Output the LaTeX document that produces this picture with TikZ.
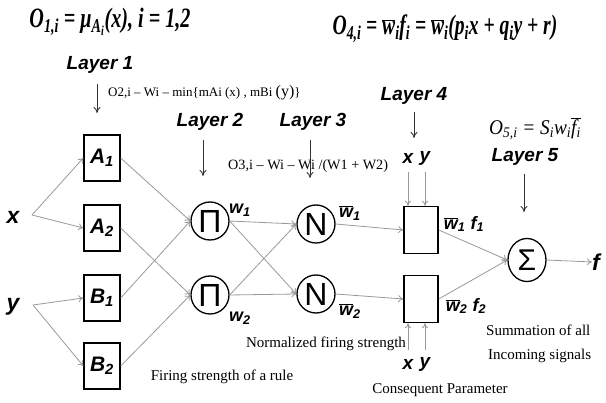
\documentclass[tikz,border=0pt]{standalone}
\usepackage{graphicx}
\usepackage{fontspec}
\setmainfont{Liberation Serif}
\newfontfamily\lsans{Liberation Sans}
\usetikzlibrary{arrows.meta,shapes.geometric}
\newcommand\ovl[1]{$\overline{\hbox{#1}}$}
\newcommand\fs[1]{\fontsize{#1}{#1}\selectfont}
\begin{document}
\begin{tikzpicture}[x=1pt,y=-1pt,
  conn/.style={draw=black!40, line width=0.8pt, -{To[length=5pt,width=7pt]}},
  layerarrow/.style={draw=black!80, line width=0.9pt, -{To[length=6pt,width=7pt]}},
  smallarrow/.style={draw=black!40, line width=0.8pt, -{To[length=5pt,width=6pt]}},
  mfbox/.style={draw, line width=1.4pt, minimum width=36pt, minimum height=46pt, inner sep=0pt, font=\lsans\bfseries\itshape\fs{21}},
  prodbox/.style={draw, line width=1.4pt, minimum width=34pt, minimum height=47pt, inner sep=0pt},
  opnode/.style={draw, ellipse, line width=1.3pt, minimum width=38pt, minimum height=38pt, inner sep=0pt, font=\lsans\fs{32}},
  layer/.style={font=\lsans\bfseries\itshape\fs{19}},
  sanslbl/.style={font=\lsans\bfseries\itshape\fs{18}, inner sep=0pt},
  inlbl/.style={font=\lsans\bfseries\itshape\fs{23}, inner sep=0pt},
  serif/.style={font=\fs{15}, inner sep=0pt},
  eq/.style={inner sep=0pt}
]
\useasboundingbox (0,0) rectangle (606,403);
% formulas
\node[eq, font=\bfseries\itshape\fs{28}] (eq1) at (110,22) {\scalebox{0.72}[1]{O\textsubscript{1,i} = μ\textsubscript{A\textsubscript{i}}(x), i = 1,2}};
\node[eq, font=\bfseries\itshape\fs{28}] (eq4) at (445,29) {\scalebox{0.7}[1]{O\textsubscript{4,i} = \ovl{w}\textsubscript{i}f\textsubscript{i} = \ovl{w}\textsubscript{i}(p\textsubscript{i}x + q\textsubscript{i}y + r)}};
\node[eq, font=\itshape\fs{21}] (eq5) at (535,129) {\scalebox{0.92}[1]{O\textsubscript{5,i} = S\textsubscript{i}w\textsubscript{i}\ovl{f\textsubscript{i}}}};
\node[eq, font=\fs{13}, anchor=west] (eq2) at (108,93) {O2,i – Wi – min\{mAi (x) , mBi {\fs{16}(y)}\}};
\node[eq, font=\fs{14.2}, anchor=west] (eq3) at (228,166) {O3,i – Wi – Wi /(W1 + W2)};
% layer labels
\node[layer] (L1) at (100,65) {Layer 1};
\node[layer] (L2) at (210,122) {Layer 2};
\node[layer] (L3) at (313,122) {Layer 3};
\node[layer] (L4) at (414,96) {Layer 4};
\node[layer] (L5) at (525,157) {Layer 5};
\coordinate (a1s) at (97,84);
\coordinate (a1e) at (97,113);
\coordinate (a2s) at (203,140);
\coordinate (a2e) at (203,176);
\coordinate (a3s) at (310,140);
\coordinate (a3e) at (310,178);
\coordinate (a4s) at (414,112);
\coordinate (a4e) at (414,138);
\coordinate (a5s) at (524,174);
\coordinate (a5e) at (524,212);
\draw[layerarrow] (a1s) -- (a1e);
\draw[layerarrow] (a2s) -- (a2e);
\draw[layerarrow] (a3s) -- (a3e);
\draw[layerarrow] (a4s) -- (a4e);
\draw[layerarrow] (a5s) -- (a5e);
% inputs
\node[inlbl] (x) at (13,217) {x};
\node[inlbl] (y) at (13,307) {y};
\coordinate (xs) at (32,215);
\coordinate (ys) at (33,305);
% membership boxes
\node[mfbox] (A1) at (102,158) {A\textsubscript{1}};
\node[mfbox] (A2) at (102,228) {A\textsubscript{2}};
\node[mfbox] (B1) at (102,298) {B\textsubscript{1}};
\node[mfbox] (B2) at (102,366) {B\textsubscript{2}};
% product nodes
\node[opnode] (P1) at (210,221) {Π};
\node[opnode] (P2) at (210,295) {Π};
\node[opnode] (N1) at (316,224) {N};
\node[opnode] (N2) at (316,294) {N};
\node[prodbox] (C1) at (421,230) {};
\node[prodbox] (C2) at (421,299) {};
\node[opnode, minimum height=43pt, font=\lsans\fs{30}] (S) at (527,260) {Σ};
\node[inlbl] (f) at (596,262) {f};
% connectors
\draw[conn] (xs) -- (A1.west);
\draw[conn] (xs) -- (A2.west);
\draw[conn] (ys) -- (B1.west);
\draw[conn] (ys) -- (B2.west);
\draw[conn] (A1.east) -- (P1.west);
\draw[conn] (B1.east) -- (P1.west);
\draw[conn] (A2.east) -- (P2.west);
\draw[conn] (B2.east) -- (P2.west);
\draw[conn] (P1.east) -- (N1.west);
\draw[conn] (P1.east) -- (N2.west);
\draw[conn] (P2.east) -- (N1.west);
\draw[conn] (P2.east) -- (N2.west);
\draw[conn] (N1.east) -- (C1.west);
\draw[conn] (N2.east) -- (C2.west);
\draw[conn] (C1.east) -- (S.west);
\draw[conn] (C2.east) -- (S.west);
\draw[conn] (S.east) -- (f.west);
% weight labels
\node[sanslbl] (w1) at (240,210) {w\textsubscript{1}};
\node[sanslbl] (w2) at (240,318) {w\textsubscript{2}};
\node[sanslbl] (nw1) at (350,213) {\ovl{w}\textsubscript{1}};
\node[sanslbl] (nw2) at (350,311) {\ovl{w}\textsubscript{2}};
\node[sanslbl] (wf1) at (464,224) {\ovl{w}\textsubscript{1} f\textsubscript{1}};
\node[sanslbl] (wf2) at (466,306) {\ovl{w}\textsubscript{2} f\textsubscript{2}};
% x y inputs to layer 4
\node[inlbl, font=\lsans\bfseries\itshape\fs{19}] (tx) at (408,158) {x};
\node[inlbl, font=\lsans\bfseries\itshape\fs{19}] (ty) at (425,158) {y};
\node[inlbl, font=\lsans\bfseries\itshape\fs{19}] (bx) at (408,364) {x};
\node[inlbl, font=\lsans\bfseries\itshape\fs{19}] (by) at (425,364) {y};
\draw[smallarrow] (tx.south |- 0,172) -- (tx.south |- C1.north);
\draw[smallarrow] (ty.south |- 0,172) -- (ty.south |- C1.north);
\draw[smallarrow] (bx.north |- 0,350) -- (bx.north |- C2.south);
\draw[smallarrow] (by.north |- 0,350) -- (by.north |- C2.south);
% descriptions
\node[serif] (d1) at (326,344) {Normalized firing strength};
\node[serif] (d2) at (222,377) {Firing strength of a rule};
\node[serif] (d3) at (440,390) {Consequent Parameter};
\node[serif, anchor=west] (d4) at (486,330) {Summation of all};
\node[serif, anchor=west] (d5) at (488,356) {Incoming signals};
\end{tikzpicture}
\end{document}
